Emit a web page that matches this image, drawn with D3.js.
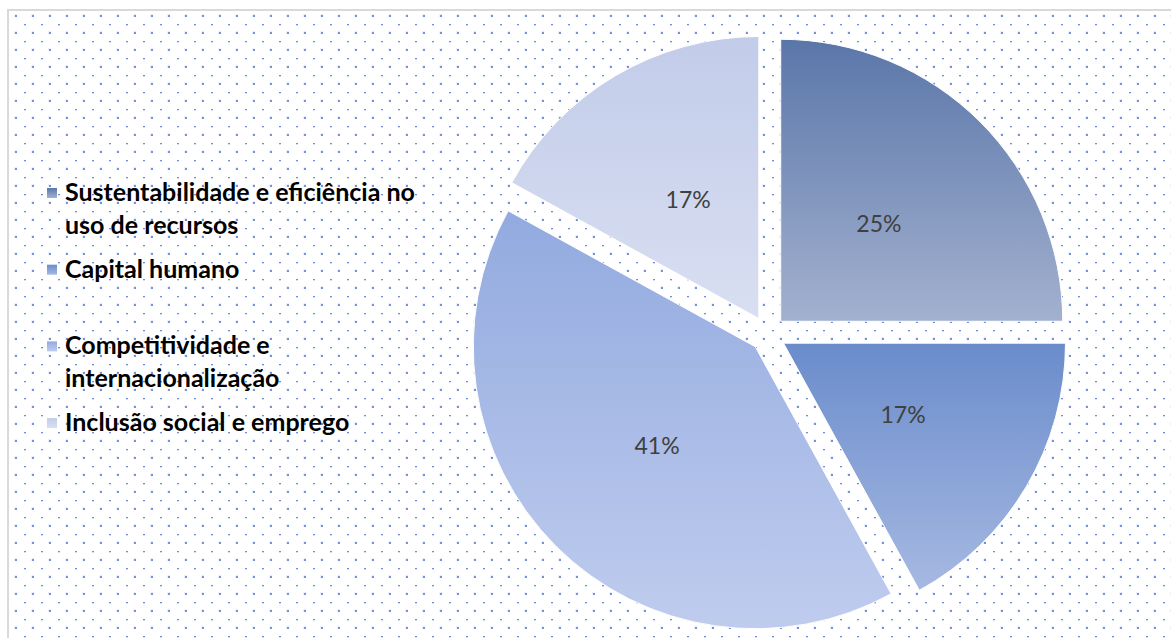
<!DOCTYPE html>
<html>
<head>
<meta charset="utf-8">
<script src="https://cdn.jsdelivr.net/npm/d3@7"></script>
<style>
  html, body { margin: 0; padding: 0; background: #ffffff; }
  svg { display: block; }
</style>
</head>
<body>
<svg id="chart" width="1171" height="638"></svg>
<script>
// Categories and their shares (%)
const categories = [
  "Sustentabilidade e eficiência no uso de recursos",
  "Capital humano",
  "Competitividade e internacionalização",
  "Inclusão social e emprego"
];
const shares = [25, 17, 41, 17];
const shareLabels = ["25%", "17%", "41%", "17%"];

// Gradient stops per slice (top colour, bottom colour)
const topColors = ["#5a76a9", "#6a8ccb", "#92aadf", "#c2cce9"];
const bottomColors = ["#a3b1cf", "#a6b9e2", "#bfccee", "#d9dff2"];

const W = 1171, H = 638;
const svg = d3.select("#chart");
const defs = svg.append("defs");

// Dotted background pattern
const pat = defs.append("pattern")
  .attr("id", "dots")
  .attr("patternUnits", "userSpaceOnUse")
  .attr("x", 0).attr("y", 0)
  .attr("width", 17).attr("height", 17);
pat.append("rect").attr("x", 14.5).attr("y", 14.5).attr("width", 3).attr("height", 3).attr("fill", "#7896df").attr("opacity", 0.35);
pat.append("rect").attr("x", 15).attr("y", 15).attr("width", 2).attr("height", 2).attr("fill", "#7391dd");
pat.append("rect").attr("x", 7).attr("y", 7).attr("width", 2).attr("height", 1.3).attr("fill", "#6d8ede");

categories.forEach((c, i) => {
  const g = defs.append("linearGradient")
    .attr("id", "grad" + i)
    .attr("x1", 0).attr("y1", 0).attr("x2", 0).attr("y2", 1);
  g.append("stop").attr("offset", "0%").attr("stop-color", topColors[i]);
  g.append("stop").attr("offset", "100%").attr("stop-color", bottomColors[i]);
});

// Chart area with dotted fill and light frame
svg.append("rect")
  .attr("x", 8).attr("y", 10)
  .attr("width", W + 10).attr("height", H + 10)
  .attr("fill", "#ffffff");
svg.append("rect")
  .attr("x", 8).attr("y", 10)
  .attr("width", W + 10).attr("height", H + 10)
  .attr("fill", "url(#dots)")
  .attr("stroke", "#d9d9d9")
  .attr("stroke-width", 2);

// Pie geometry
const cx = 768, cy = 334, R = 282, explode = 18;
const pie = d3.pie().sort(null).value(d => d);
const arcs = pie(shares);
const arc = d3.arc().innerRadius(0).outerRadius(R);
const labelArc = d3.arc().innerRadius(0).outerRadius(R * 0.985);

const pieG = svg.append("g").attr("transform", `translate(${cx},${cy})`);

const slice = pieG.selectAll("g.slice")
  .data(arcs)
  .enter().append("g")
  .attr("class", "slice")
  .attr("transform", d => {
    const mid = (d.startAngle + d.endAngle) / 2;
    return `translate(${Math.sin(mid) * explode},${-Math.cos(mid) * explode})`;
  });

slice.append("path")
  .attr("d", arc)
  .attr("fill", (d, i) => `url(#grad${i})`)
  .attr("stroke", "#ffffff")
  .attr("stroke-width", 1);

slice.append("text")
  .attr("transform", d => `translate(${labelArc.centroid(d)})`)
  .attr("text-anchor", "middle")
  .attr("dominant-baseline", "central")
  .attr("font-family", "Lato, 'Open Sans', sans-serif")
  .attr("font-size", 23)
  .attr("fill", "#404040")
  .text((d, i) => shareLabels[i]);

// Legend
const legendFont = "Lato, 'Open Sans', sans-serif";
const maxLineWidth = 362;
const legendX = 65, firstBaseline = 201, slotH = 76.7, lineH = 32.5;

const measurer = svg.append("text")
  .attr("font-family", legendFont)
  .attr("font-size", 100)
  .attr("font-weight", "bold")
  .attr("visibility", "hidden");
function textWidth(s) { return measurer.text(s).node().getComputedTextLength(); }
// Size the legend type so the longest first line spans the legend column
const legendSize = 100 * 350 / textWidth("Sustentabilidade e eficiência no");
measurer.attr("font-size", legendSize);

function wrap(label) {
  const words = label.split(" ");
  const lines = [];
  let cur = "";
  words.forEach(w => {
    const trial = cur ? cur + " " + w : w;
    if (cur && textWidth(trial) > maxLineWidth) { lines.push(cur); cur = w; }
    else cur = trial;
  });
  if (cur) lines.push(cur);
  return lines;
}

const legend = svg.append("g");
categories.forEach((c, i) => {
  const base = firstBaseline + i * slotH;
  legend.append("rect")
    .attr("x", 47).attr("y", base - 13)
    .attr("width", 10).attr("height", 10)
    .attr("fill", `url(#grad${i})`);
  const t = legend.append("text")
    .attr("font-family", legendFont)
    .attr("font-size", legendSize)
    .attr("font-weight", "bold")
    .attr("fill", "#000000");
  wrap(c).forEach((ln, k) => {
    t.append("tspan").attr("x", legendX).attr("y", base + k * lineH).text(ln);
  });
});
measurer.remove();
</script>
</body>
</html>
